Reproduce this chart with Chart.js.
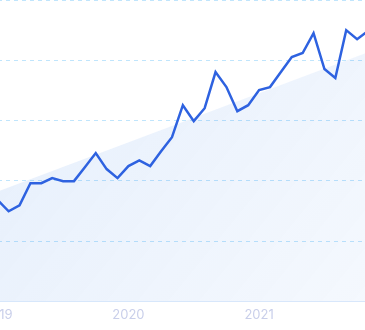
<!DOCTYPE html>
<html>
<head>
<meta charset="utf-8">
<script src="https://cdn.jsdelivr.net/npm/chart.js@4.4.0/dist/chart.umd.min.js"></script>
<style>
    html, body { margin: 0; padding: 0; background: #fff; overflow: hidden; width: 365px; height: 330px; }
    #wrap { position: absolute; left: -23px; top: -10px; width: 420px; height: 340px; }
</style>
</head>
<body>
<div id="wrap"><canvas id="trend_chart"></canvas></div>
<script>
var labels = [
    '2019-01', '2019-02', '2019-03', '2019-04', '2019-05', '2019-06', '2019-07', '2019-08', '2019-09', '2019-10', '2019-11', '2019-12',
    '2020-01', '2020-02', '2020-03', '2020-04', '2020-05', '2020-06', '2020-07', '2020-08', '2020-09', '2020-10', '2020-11', '2020-12',
    '2021-01', '2021-02', '2021-03', '2021-04', '2021-05', '2021-06', '2021-07', '2021-08', '2021-09', '2021-10', '2021-11'
];
var valores = [
    33.6, 29.9, 31.9, 39.2, 39.2, 40.9, 39.9, 39.9, 44.5, 49.2, 43.9, 40.9,
    44.9, 46.8, 44.9, 49.8, 54.5, 65.1, 59.8, 64.1, 76.1, 71.1, 63.1, 65.1,
    70.1, 71.1, 76.1, 81.1, 82.4, 89.0, 77.1, 74.1, 90.0, 87.0, 89.7
];
// only the two ends of the trend, the rest is spanned
var tendencia = [
    36.5, null, null, null, null, null, null, null, null, null, null, null,
    null, null, null, null, null, null, null, null, null, null, null, null,
    null, null, null, null, null, null, null, null, null, null, 82.7
];
var yTicks = [0, 20, 40, 60, 80, 100];

print_chart(labels, valores, tendencia);

function fill_gradient(context) {
    var area = context.chart.chartArea;
    if (!area) {
        return 'rgba(60,130,230,0.1)';
    }
    var g = context.chart.ctx.createLinearGradient(area.left, area.top, area.right, area.bottom);
    g.addColorStop(0, 'rgba(50,125,230,0.13)');
    g.addColorStop(1, 'rgba(50,125,230,0.05)');
    return g;
}

function print_chart(labels, data, trend) {
    return new Chart(document.getElementById('trend_chart'), {
        type: 'line',
        data: {
            labels: labels,
            datasets: [{
                data: data,
                borderColor: '#2e62e0',
                borderWidth: 2.5,
                pointRadius: 0,
                tension: 0,
                fill: false,
                order: 1
            }, {
                data: trend,
                borderWidth: 0,
                borderColor: 'rgba(0,0,0,0)',
                backgroundColor: fill_gradient,
                pointRadius: 0,
                spanGaps: true,
                fill: 'start',
                order: 2
            }]
        },
        options: {
            responsive: true,
            maintainAspectRatio: false,
            animation: false,
            layout: { padding: { left: 18, right: 29, top: 10, bottom: 1 } },
            plugins: { legend: { display: false }, tooltip: { enabled: false } },
            scales: {
                x: {
                    offset: false,
                    grid: { display: false, drawTicks: false },
                    border: { display: true, color: '#d9e8fb', width: 1 },
                    ticks: {
                        autoSkip: false,
                        maxRotation: 0,
                        padding: 6,
                        color: '#c9cfea',
                        font: { family: 'Inter', size: 13 },
                        callback: function(value) {
                            var l = labels[value];
                            return l.slice(5) === '01' ? l.slice(0, 4) : '';
                        }
                    }
                },
                y: {
                    min: yTicks[0],
                    max: yTicks[yTicks.length - 1],
                    afterBuildTicks: function(axis) {
                        axis.ticks = yTicks.map(function(v) { return { value: v }; });
                    },
                    ticks: { display: false },
                    grid: {
                        drawTicks: false,
                        color: function(ctx) {
                            return ctx.tick && ctx.tick.value === 0 ? 'rgba(0,0,0,0)' : 'rgba(150,212,250,0.6)';
                        }
                    },
                    border: { display: false, dash: [4, 4] }
                }
            }
        }
    });
}
</script>
</body>
</html>
